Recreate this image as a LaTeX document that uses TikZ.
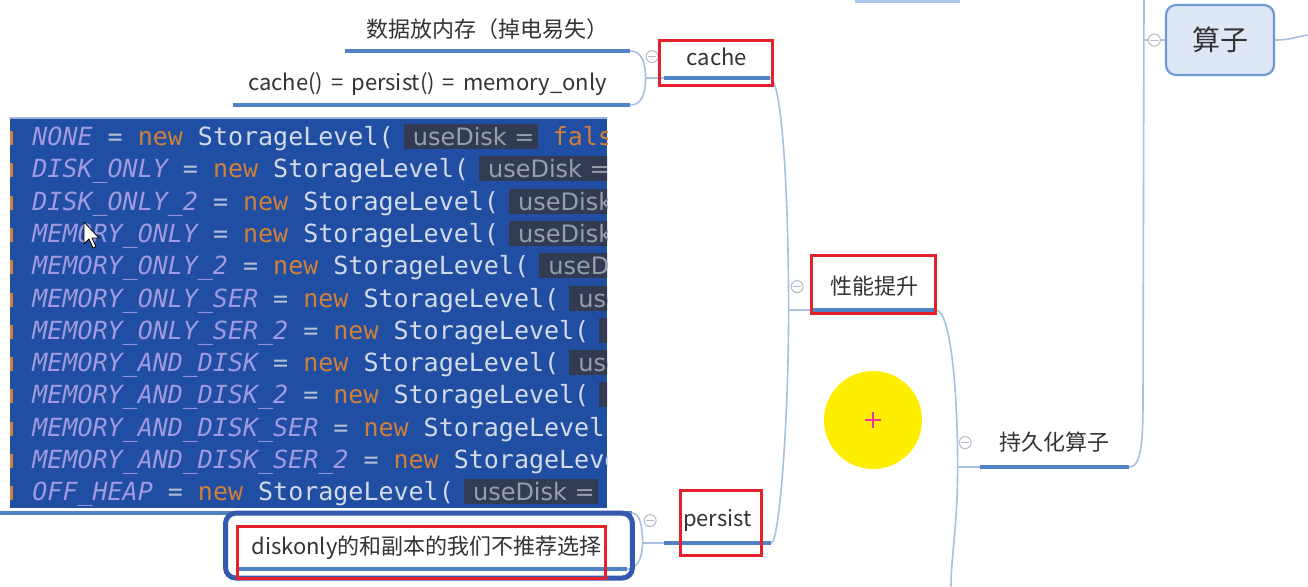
\documentclass[tikz,border=0pt]{standalone}
\usepackage{fontspec}
\setmainfont{Noto Sans CJK SC}
\newfontfamily\codefont{DejaVu Sans Mono}
\newfontfamily\hintfont{DejaVu Sans}
\usetikzlibrary{positioning,calc}
\definecolor{ink}{HTML}{333333}
\definecolor{lineblue}{HTML}{5182C6}
\definecolor{paleblue}{HTML}{A9C8EE}
\definecolor{branchblue}{HTML}{A9C0E3}
\definecolor{foldgray}{HTML}{B3BAC6}
\definecolor{opfill}{HTML}{DDE7F5}
\definecolor{opline}{HTML}{6E9BD8}
\definecolor{selblue}{HTML}{3559AE}
\definecolor{markred}{HTML}{E62129}
\definecolor{codebg}{HTML}{1F4EA2}
\definecolor{codeedge}{HTML}{9DB4DC}
\definecolor{codeid}{HTML}{A09AE0}
\definecolor{codeop}{HTML}{B4C0D6}
\definecolor{codekw}{HTML}{D0803A}
\definecolor{codecls}{HTML}{D3DBEA}
\definecolor{codehint}{HTML}{323B52}
\definecolor{codehinttxt}{HTML}{979EAC}
\definecolor{spotyellow}{HTML}{FFEE00}
\definecolor{spotplus}{HTML}{F0359B}

\newcommand{\hintbox}[1]{{\setlength{\fboxsep}{1.6pt}%
  \colorbox{codehint}{\hspace{3pt}\hintfont\fontsize{12}{14}\selectfont\color{codehinttxt}#1}}}

\begin{document}
\begin{tikzpicture}[
  x=0.5pt,
  y=-0.5pt,
  line cap=round,
  line join=round,
  topic/.style={
    text=ink,
    font=\fontsize{11}{13}\selectfont,
    inner sep=0pt,
    anchor=south,
  },
  opbox/.style={
    rounded corners=5pt,
    fill=opfill,
    draw=opline,
    line width=1.1pt,
    minimum width=54pt,
    minimum height=35pt,
    text=ink,
    font=\fontsize{14}{16}\selectfont,
  },
  topicline/.style={
    draw=lineblue,
    line width=2pt,
    line cap=butt,
  },
  branch/.style={
    draw=branchblue,
    line width=0.8pt,
  },
  fold/.style={
    circle,
    draw=foldgray,
    fill=white,
    line width=0.5pt,
    minimum size=6pt,
    inner sep=0pt,
    path picture={
      \draw[foldgray, line width=0.5pt]
        ([xshift=-1.8pt]path picture bounding box.center) --
        ([xshift=1.8pt]path picture bounding box.center);
    },
  },
  selbox/.style={
    draw=selblue,
    line width=2.5pt,
    rounded corners=5pt,
  },
  redmark/.style={
    draw=markred,
    line width=1.5pt,
    line cap=butt,
    line join=miter,
  },
  codetxt/.style={
    anchor=base west,
    inner sep=0pt,
    font=\codefont\fontsize{12.5}{14}\selectfont,
  },
]

\useasboundingbox (0,0) rectangle (1308,586);
\fill[white] (0,0) rectangle (1308,586);

% --- code screenshot ---
\coordinate (hidL) at (0,513);
\coordinate (hidR) at (632,513);
\draw[topicline] (hidL) -- (hidR);

\coordinate (codeNW) at (10,118);
\coordinate (codeSE) at (607,508);
\fill[codebg] (codeNW) rectangle (codeSE);
\draw[codeedge, line width=0.8pt] (codeNW) -- (codeSE |- codeNW);

\begin{scope}
  \clip (codeNW) rectangle (codeSE);
  \foreach \name/\arg [count=\i from 0] in {
    NONE/false, DISK\_ONLY/true, DISK\_ONLY\_2/true, MEMORY\_ONLY/false,
    MEMORY\_ONLY\_2/false, MEMORY\_ONLY\_SER/false, MEMORY\_ONLY\_SER\_2/false,
    MEMORY\_AND\_DISK/true, MEMORY\_AND\_DISK\_2/true, MEMORY\_AND\_DISK\_SER/true,
    MEMORY\_AND\_DISK\_SER\_2/true, OFF\_HEAP/true}
  {
    \fill[codekw] (10,{131+32.3*\i}) rectangle (12.5,{145+32.3*\i});
    \node[codetxt] (code\i) at (32,{145.5+32.3*\i})
      {{\itshape\color{codeid}\name} {\color{codeop}=} {\color{codekw}new}
       {\color{codecls}StorageLevel(}\hspace{5pt}\hintbox{useDisk =}
       {\color{codekw}\arg}};
  }
\end{scope}

% mouse pointer
\filldraw[fill=white, draw=black, line width=0.4pt]
  (84,222) -- ++(0,22) -- ++(5,-5) -- ++(4,9) -- ++(3,-1.5)
  -- ++(-4,-8.5) -- ++(7,0) -- cycle;

% --- topics ---
\node[topic, minimum width=142.5pt, minimum height=21pt] (mem) at (487.5,51)
  {数据放内存（掉电易失）};
\node[topic, minimum width=198.5pt, minimum height=21pt] (memonly) at (431.5,105)
  {\spaceskip=4pt cache() = persist() = memory\_only\hspace{4pt}\mbox{}};
\node[topic, minimum width=53pt, minimum height=21pt] (cache) at (717,78) {cache};
\node[topic, minimum width=61.5pt, minimum height=23pt] (perf) at (874.5,310) {性能提升};
\node[topic, minimum width=74.5pt, minimum height=24pt] (persistop) at (1054.5,467) {持久化算子};
\node[topic, minimum width=53.5pt, minimum height=22pt] (persist) at (717.5,543) {persist};
\node[topic, minimum width=194.5pt, minimum height=21pt] (advice) at (432.5,569)
  {diskonly的和副本的我们不推荐选择\hspace{6pt}\mbox{}};
\node[opbox] (op) at (1220,40) {算子};

% --- branches ---
\coordinate (cj) at ($(cache.south west)+(-18,0)$);
\coordinate (pj) at ($(perf.south west)+(-24,0)$);
\coordinate (qj) at ($(persistop.south west)+(-22,0)$);
\coordinate (kj) at ($(persist.south west)+(-21,0)$);
\coordinate (qdown) at (951,586);
\coordinate (vtop) at (1144,0);
\coordinate (vbend) at (1143,400);
\coordinate (opout) at (1308,35);
\coordinate (topL) at (855,1);
\coordinate (topR) at (960,1);

\draw[branch] (mem.south east) .. controls +(12,0) and +(0,-14) .. (cj);
\draw[branch] (memonly.south east) .. controls +(12,0) and +(0,14) .. (cj);
\draw[branch] (cj) -- (cache.south west);

\draw[branch] (cache.south east) .. controls +(12,4) and +(0,-110) .. (pj);
\draw[branch] (persist.south east) .. controls +(8,-2) and +(0,110) .. (pj);
\draw[branch] (pj) -- (perf.south west);

\draw[branch] (perf.south east) .. controls +(14,2) and +(0,-80) .. (qj);
\draw[branch] (qj) .. controls +(0,60) and +(0,-30) .. (qdown);
\draw[branch] (qj) -- (persistop.south west);

\draw[branch] (persistop.south east) .. controls +(12,0) and +(0,40) .. (vbend)
  -- (vtop);
\draw[branch] (vtop |- op.west) -- (op.west);
\draw[branch] (op.east) .. controls +(16,0) and +(-14,2) .. (opout);

\draw[branch] (hidR) .. controls +(8,0) and +(0,-16) .. (kj);
\draw[branch] (advice.south east) .. controls +(10,0) and +(0,14) .. (kj);
\draw[branch] (kj) -- (persist.south west);

% --- underlines ---
\foreach \n in {mem,memonly,cache,perf,persistop,persist,advice}
  \draw[topicline] (\n.south west) -- (\n.south east);
\draw[topicline, paleblue] (topL) -- (topR);

% --- fold icons ---
\node[fold, left=2.5pt of cache] (fcache) {};
\node[fold, left=4.5pt of perf] (fperf) {};
\node[fold, left=4pt of persistop] (fpersistop) {};
\node[fold, left=3.5pt of persist] (fpersist) {};
\node[fold, left=2pt of op] (fop) {};

% --- selection and red marks ---
\draw[selbox] ($(advice.north west)+(-12,-13)$) rectangle ($(advice.south east)+(5,9)$);

\draw[redmark] ($(cache.north west)+(-4,5)$) rectangle ($(cache.south east)+(2,7)$);
\draw[redmark] ($(perf.north west)+(-1,-8)$) rectangle ($(perf.south east)+(-1,3)$);
\draw[redmark] ($(persist.north west)+(17,-8)$) rectangle ($(persist.south east)+(-10,12)$);
\draw[redmark] (advice.north west) rectangle ($(advice.south east)+(-22,9)$);

% --- cursor highlight ---
\node[circle, fill=spotyellow, minimum size=49pt, inner sep=0pt] (spot) at (873,420) {};
\draw[spotplus, line width=1.1pt, line cap=butt]
  ($(spot.center)+(-8,0)$) -- ($(spot.center)+(8,0)$)
  ($(spot.center)+(0,-8)$) -- ($(spot.center)+(0,8)$);

\end{tikzpicture}
\end{document}
